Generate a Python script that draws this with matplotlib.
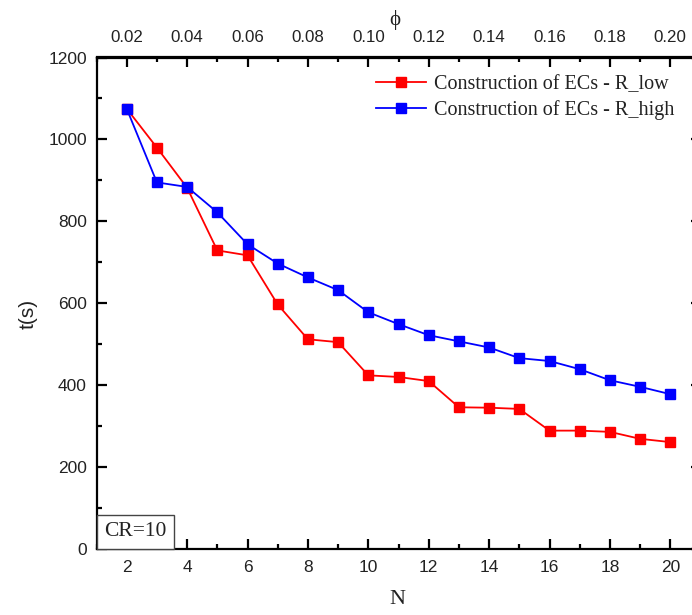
import matplotlib
matplotlib.use("Agg")
import matplotlib.pyplot as plt
from matplotlib.ticker import MultipleLocator
from matplotlib.offsetbox import AnchoredText

N = [2, 3, 4, 5, 6, 7, 8, 9, 10, 11, 12, 13, 14, 15, 16, 17, 18, 19, 20]
t_low = [1075, 980, 882, 729, 717, 597, 512, 505, 424, 420, 410, 346, 345, 342, 289, 289, 286, 269, 261]
t_high = [1075, 895, 884, 822, 744, 697, 663, 632, 578, 549, 522, 507, 492, 466, 459, 439, 412, 396, 378]
label_low = "Construction of ECs - R_low"
label_high = "Construction of ECs - R_high"

W, H = 692, 615
fig = plt.figure(figsize=(W / 100, H / 100), dpi=100)
L, R, T, B = 96.5, 700.5, 57.5, 549
ax = fig.add_axes([L / W, 1 - B / H, (R - L) / W, (B - T) / H])

sans = ["Liberation Sans", "DejaVu Sans"]
serif = ["Liberation Serif", "DejaVu Serif"]

ax.plot(N, t_low, color="#ff0000", lw=1.3, marker="s", ms=7.5, mec="#ff0000", label=label_low)
ax.plot(N, t_high, color="#0000ff", lw=1.3, marker="s", ms=7.5, mec="#0000ff", label=label_high)

ax.set_xlim(1, 21)
ax.set_ylim(0, 1200)
ax.xaxis.set_major_locator(MultipleLocator(2))
ax.xaxis.set_minor_locator(MultipleLocator(1))
ax.yaxis.set_major_locator(MultipleLocator(200))
ax.yaxis.set_minor_locator(MultipleLocator(100))

for s in ax.spines.values():
    s.set_linewidth(1.6)

ax.tick_params(which="both", direction="in", top=False, right=True, width=1.6)
ax.tick_params(which="major", length=7)
ax.tick_params(which="minor", length=3.5)
ax.tick_params(axis="x", which="major", pad=8, labelsize=12.5)
ax.tick_params(axis="y", which="major", pad=7, labelsize=12.5)
for lab in ax.get_xticklabels() + ax.get_yticklabels():
    lab.set_family(sans)
    lab.set_color("#222222")

sec = ax.secondary_xaxis("top", functions=(lambda x: x / 100.0, lambda x: x * 100.0))
sec.xaxis.set_major_locator(MultipleLocator(0.02))
sec.xaxis.set_minor_locator(MultipleLocator(0.01))
sec.xaxis.set_major_formatter(matplotlib.ticker.FormatStrFormatter("%.2f"))
sec.tick_params(which="both", direction="in", width=1.6)
sec.tick_params(which="major", length=7, pad=9, labelsize=12.2)
sec.tick_params(which="minor", length=3.5)
sec.spines["top"].set_linewidth(1.6)
for lab in sec.get_xticklabels():
    lab.set_family(sans)
    lab.set_color("#222222")

fig.text(28 / W, 1 - 314 / H, "t(s)", rotation=90, ha="center", va="center",
         fontsize=15, family=sans, color="#222222")
fig.text(397 / W, 1 - 600 / H, "N", ha="center", va="center", fontsize=16, family=serif, color="#222222")
fig.text(395 / W, 1 - 20 / H, "ϕ", ha="center", va="center", fontsize=15, family=serif, color="#222222")

leg = ax.legend(loc="upper left", bbox_to_anchor=(376 / W, 1 - 75 / H), bbox_transform=fig.transFigure,
                frameon=False, borderpad=0, borderaxespad=0, handlelength=2.5, handletextpad=0.4,
                labelspacing=0.32, prop={"family": serif, "size": 14.5})
for txt in leg.get_texts():
    txt.set_color("#222222")

at = AnchoredText("CR=10", loc="lower left", pad=0.35, borderpad=0, frameon=True,
                  prop={"family": serif, "size": 15.5, "color": "#222222"})
at.patch.set_linewidth(1.0)
at.patch.set_edgecolor("#444444")
ax.add_artist(at)

fig.savefig("out.png", dpi=100)
